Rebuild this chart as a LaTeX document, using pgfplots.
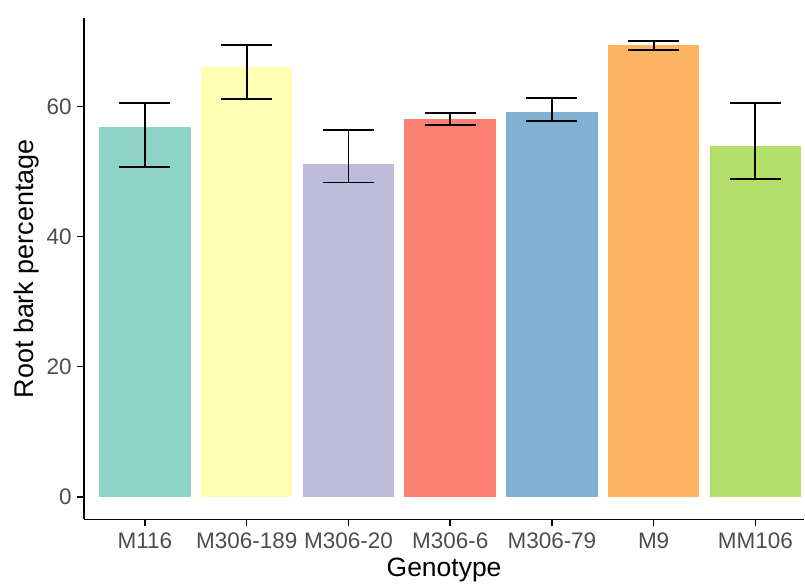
\documentclass[border=0pt]{standalone}
\usepackage{fontspec}
\setmainfont{Liberation Sans}
\usepackage{pgfplots}
\pgfplotsset{compat=1.18}
\definecolor{c1}{HTML}{8DD3C7}
\definecolor{c2}{HTML}{FFFFB3}
\definecolor{c3}{HTML}{BEBADA}
\definecolor{c4}{HTML}{FB8072}
\definecolor{c5}{HTML}{80B1D3}
\definecolor{c6}{HTML}{FDB462}
\definecolor{c7}{HTML}{B3DE69}
\definecolor{tickgray}{HTML}{4D4D4D}
\begin{document}
\begin{tikzpicture}
\begin{axis}[
  scale only axis, width=721pt, height=502pt,
  xmin=-0.6, xmax=6.48, ymin=-3.5, ymax=73.6,
  axis x line*=bottom, axis y line*=left,
  axis line style={-, line width=1.6pt, black},
  xtick={0,1,2,3,4,5,6},
  xticklabels={M116,M306-189,M306-20,M306-6,M306-79,M9,MM106},
  ytick={0,20,40,60},
  tick align=outside, major tick length=7pt,
  tick style={line width=1.6pt, black},
  /pgf/number format/assume math mode=true,
  ticklabel style={font=\fontsize{22.5}{25}\selectfont, text=tickgray},
  xticklabel style={anchor=base, inner sep=0pt, yshift=-22pt},
  yticklabel style={anchor=east, inner sep=0pt, xshift=-5pt},
  every axis x label/.style={at={(axis description cs:0.5,-0.1135)}, anchor=base, font=\fontsize{26.5}{30}\selectfont},
  every axis y label/.style={at={(axis description cs:-0.0694,0.5)}, rotate=90, anchor=base, font=\fontsize{27}{30}\selectfont},
  xlabel={Genotype}, ylabel={Root bark percentage},
]
\addplot[ybar, bar width=0.9, bar shift=0pt, fill=c1, draw=none] coordinates {(0,56.9)};
\addplot[ybar, bar width=0.9, bar shift=0pt, fill=c2, draw=none] coordinates {(1,66.1)};
\addplot[ybar, bar width=0.9, bar shift=0pt, fill=c3, draw=none] coordinates {(2,51.2)};
\addplot[ybar, bar width=0.9, bar shift=0pt, fill=c4, draw=none] coordinates {(3,58.1)};
\addplot[ybar, bar width=0.9, bar shift=0pt, fill=c5, draw=none] coordinates {(4,59.2)};
\addplot[ybar, bar width=0.9, bar shift=0pt, fill=c6, draw=none] coordinates {(5,69.5)};
\addplot[ybar, bar width=0.9, bar shift=0pt, fill=c7, draw=none] coordinates {(6,53.9)};
\addplot[draw=none, mark=none,
  error bars/.cd, y dir=both, y explicit,
  error bar style={line width=1.8pt, black},
  error mark options={rotate=90, mark size=25.5pt, line width=1.8pt, draw=black}]
  coordinates {
  (0,56.9) += (0,3.6) -= (0,6.2)
  (1,66.1) += (0,3.3) -= (0,5.0)
  (2,51.2) += (0,5.2) -= (0,2.9)
  (3,58.1) += (0,0.9) -= (0,1.0)
  (4,59.2) += (0,2.1) -= (0,1.4)
  (5,69.5) += (0,0.6) -= (0,0.8)
  (6,53.9) += (0,6.6) -= (0,5.0)
  };
\end{axis}
\path ([shift={(-84pt,-65pt)}]current axis.south west) rectangle ([shift={(0pt,18pt)}]current axis.north east);
\end{tikzpicture}
\end{document}
